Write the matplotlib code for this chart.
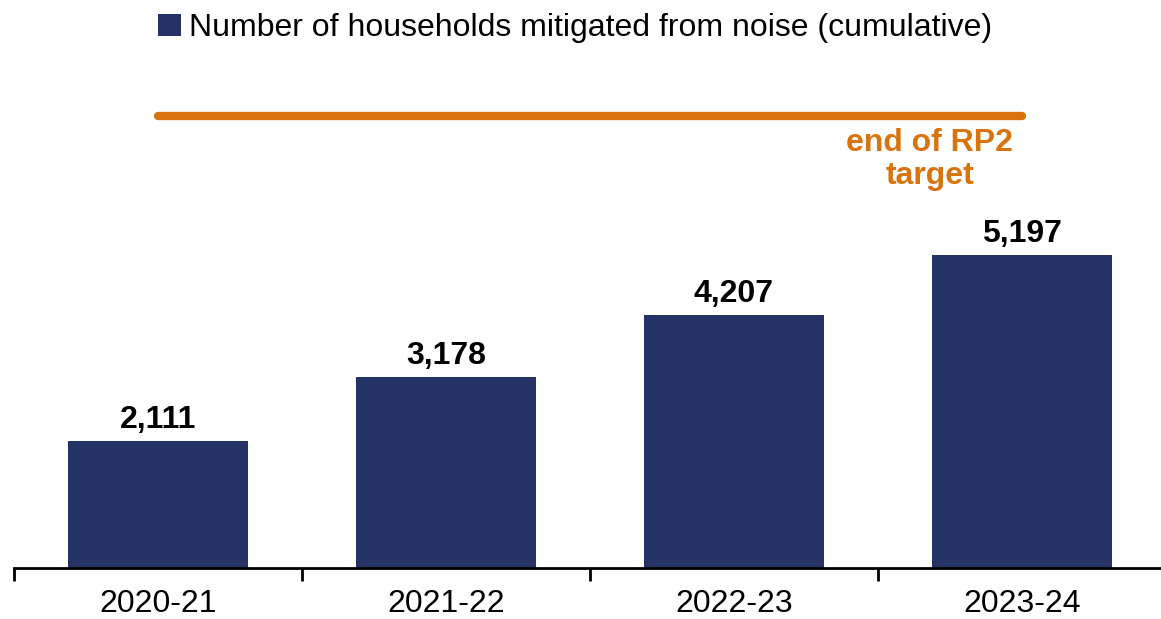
import matplotlib
matplotlib.use("Agg")
import matplotlib.pyplot as plt
from matplotlib.patches import Patch

categories = ["2020-21", "2021-22", "2022-23", "2023-24"]
households = [2111, 3178, 4207, 5197]
target = [7500, 7500, 7500, 7500]
legend_label = "Number of households mitigated from noise (cumulative)"
target_label = "end of RP2\ntarget"

bar_color = "#253266"
target_color = "#D9730D"

plt.rcParams["font.family"] = ["Liberation Sans", "DejaVu Sans"]

W, H = 1161, 619
fig = plt.figure(figsize=(W / 100, H / 100), dpi=100)
ppu = 313 / 5197.0
ymax = 8300
ax_h = ymax * ppu
ax = fig.add_axes([14 / W, 51 / H, 1152 / W, ax_h / H])

x = list(range(len(categories)))
bars = ax.bar(x, households, width=0.625, color=bar_color, zorder=2)
ax.plot(x, target, color=target_color, lw=6, solid_capstyle="round", zorder=3)

for xi, v in zip(x, households):
    ax.annotate(f"{v:,}", (xi, v), xytext=(0, 4), textcoords="offset points",
                ha="center", va="bottom", fontsize=23, fontweight="bold", color="black")

ax.text(2.68, 7500 - 200, target_label, ha="center", va="top", fontsize=23,
        fontweight="bold", color=target_color, linespacing=1.1)

ax.set_xlim(-0.5, 3.5)
ax.set_ylim(0, ymax)
ax.set_xticks(x)
ax.set_xticklabels(categories, fontsize=23)
ax.set_xticks([-0.5, 0.5, 1.5, 2.5, 3.5], minor=True)
ax.tick_params(axis="x", which="major", length=0, pad=15)
ax.tick_params(axis="x", which="minor", length=9, width=2, direction="out")
ax.set_yticks([])
for s in ["top", "right", "left"]:
    ax.spines[s].set_visible(False)
ax.spines["bottom"].set_linewidth(2)

handles = [Patch(facecolor=bar_color, edgecolor="none")]
fig.legend(handles, [legend_label], loc="center", bbox_to_anchor=(575 / W, 1 - 28 / H),
           frameon=False, fontsize=23, handlelength=0.7, handleheight=0.7,
           handletextpad=0.25, borderpad=0)

fig.savefig("out.png", dpi=100)
